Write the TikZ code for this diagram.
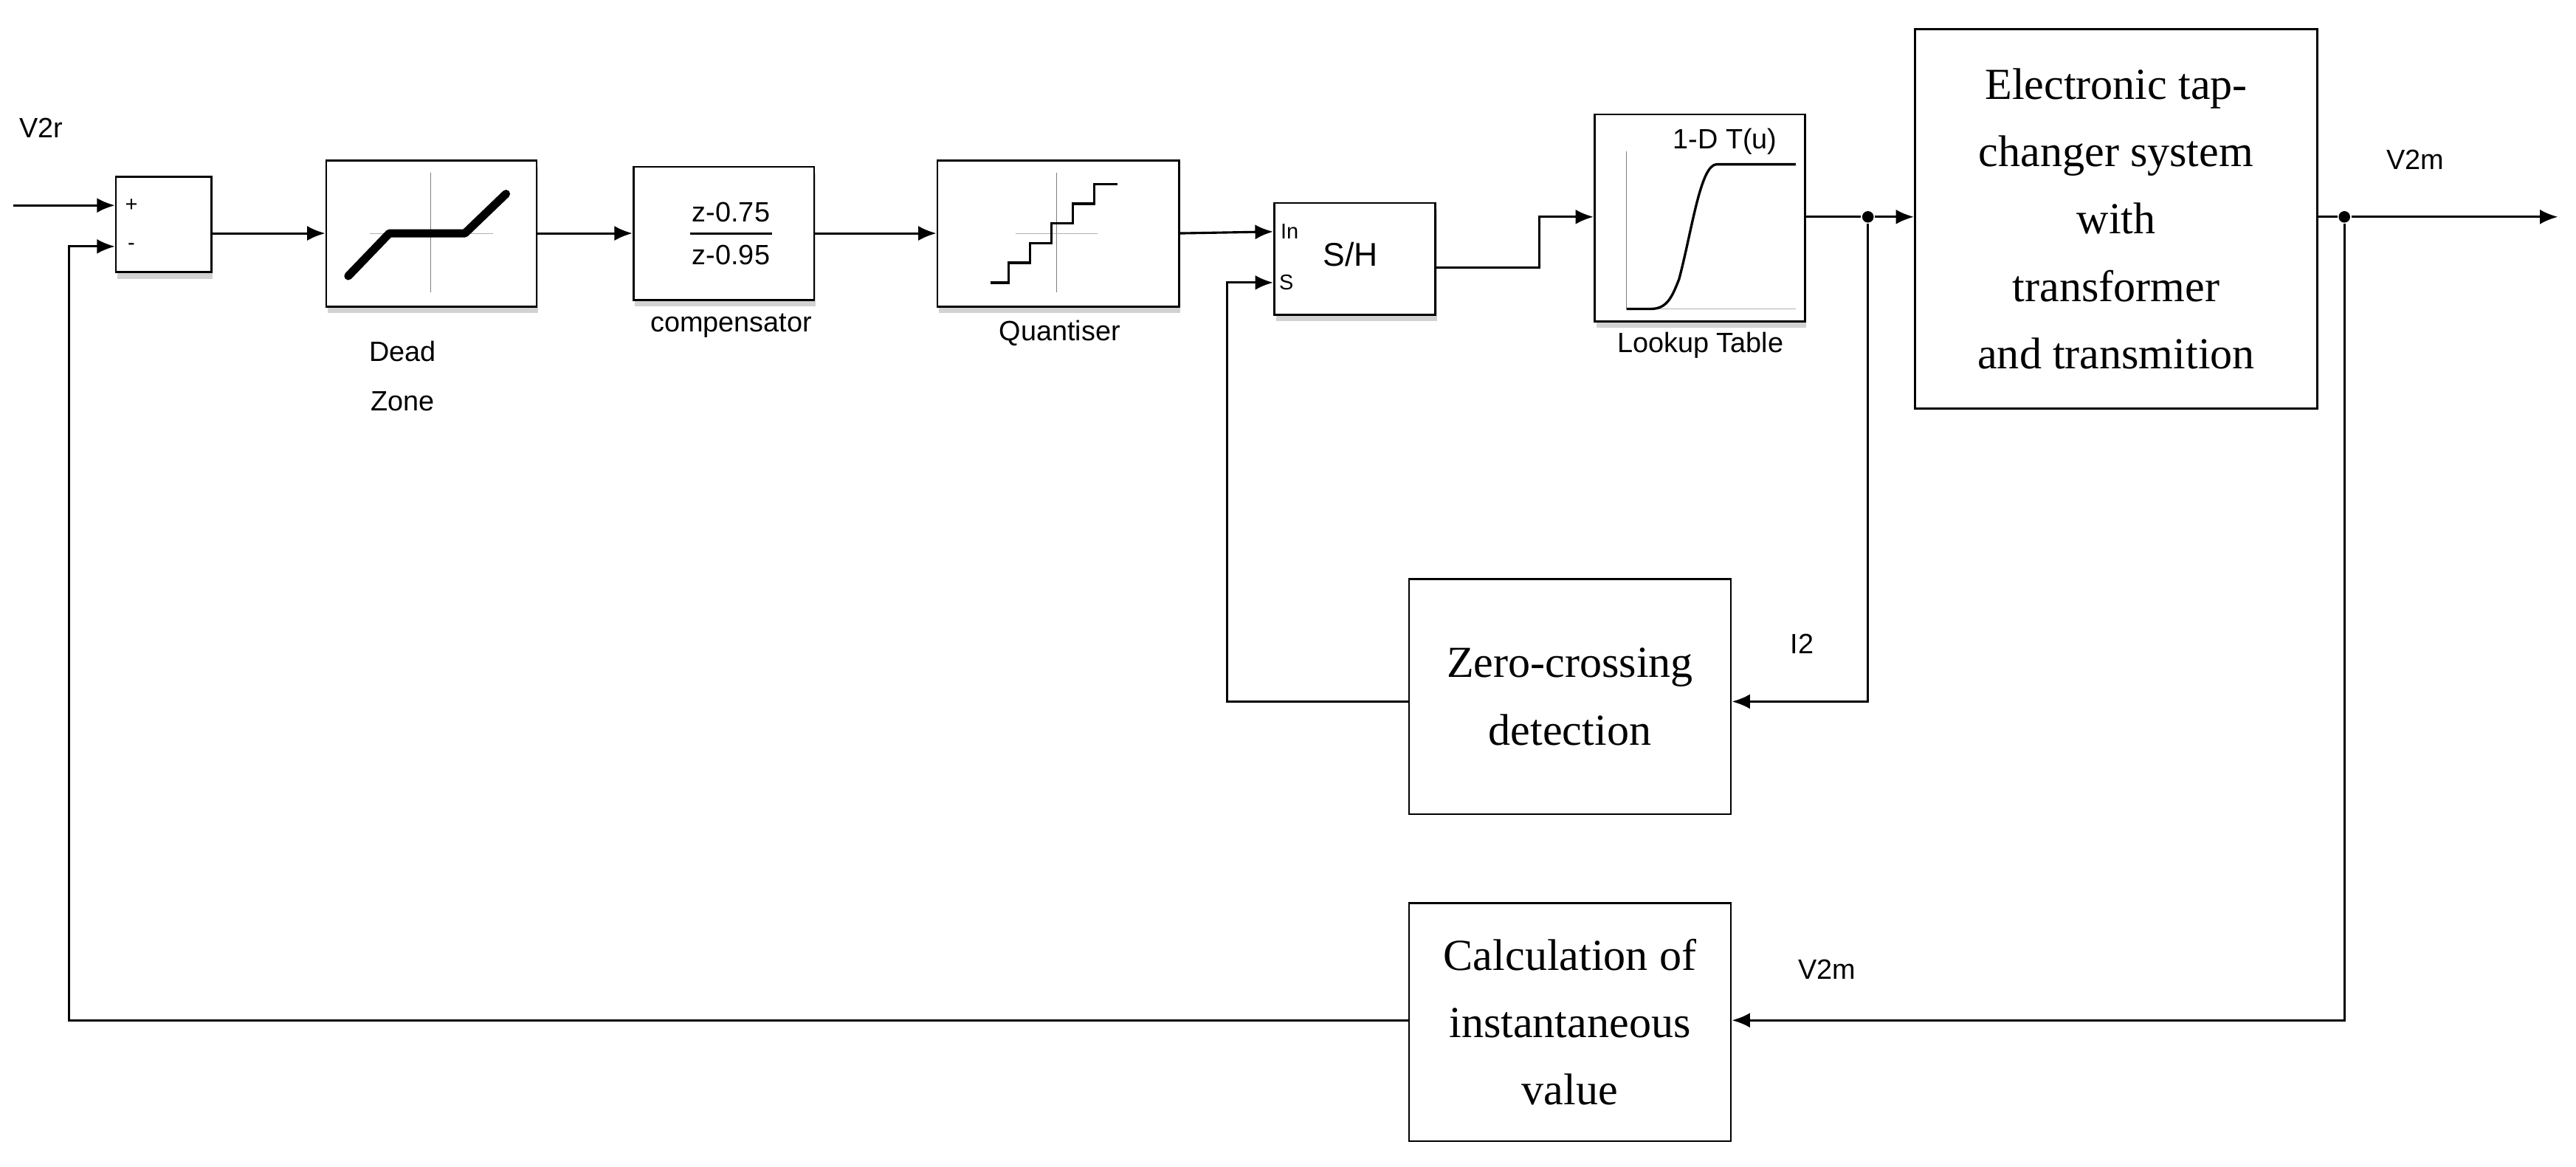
\documentclass[tikz,border=0pt]{standalone}
\usepackage{fontspec}
\setmainfont{Liberation Serif}
\newfontfamily\simfont{Liberation Sans}
\usetikzlibrary{arrows.meta,shadows}

\tikzset{
    sim/.style = {rectangle, draw, line width=1.2pt, fill=white,
                  drop shadow={shadow xshift=1pt, shadow yshift=-4pt, fill=black!35},
                  anchor=north west, inner sep=0pt},
    plain/.style = {rectangle, draw, line width=1.2pt, anchor=north west, inner sep=0pt,
                    align=center, font=\fontsize{27}{41}\selectfont},
    lbl/.style = {font=\simfont\fontsize{17}{30}\selectfont, align=center},
    port/.style = {font=\simfont\fontsize{13}{15}\selectfont},
    dot/.style = {circle, fill, inner sep=0pt, minimum size=7pt}
}

\begin{document}
\begin{tikzpicture}[x=1pt,y=-1pt,->,>={Latex[length=11pt,width=9pt]},line width=1.4pt]

    \useasboundingbox (0,0) rectangle (1568,710);

    % simulink blocks
    \node[sim, minimum width=58, minimum height=58] (sum) at (70,107) {};
    \node[sim, minimum width=128, minimum height=89] (dz) at (198,97) {};
    \node[sim, minimum width=110, minimum height=81] (comp) at (385,101) {};
    \node[sim, minimum width=147, minimum height=89] (quant) at (570,97) {};
    \node[sim, minimum width=98, minimum height=68] (sh) at (775,123) {};
    \node[sim, minimum width=128, minimum height=126] (lut) at (970,69) {};

    % plain blocks
    \node[plain, minimum width=245, minimum height=231] (tap) at (1165,17)
        {Electronic tap-\\changer system\\with\\transformer\\and transmition};
    \node[plain, minimum width=196, minimum height=143] (zc) at (857,352)
        {Zero-crossing\\detection};
    \node[plain, minimum width=196, minimum height=145] (calc) at (857,549)
        {Calculation of\\instantaneous\\value};

    % block icons
    \begin{scope}[-, line width=0.5pt]
        \draw[gray] (262,105) -- (262,178);
        \draw[gray!60] (225,142) -- (300,142);
        \draw[line width=5pt, line cap=round, line join=round]
            (212,168) -- (237,142) -- (283,142) -- (308,118);
        \draw[gray] (643,105) -- (643,178);
        \draw[gray!60] (618,142) -- (668,142);
        \draw[line width=1.5pt] (603,172) -- (614,172) -- (614,160) -- (627,160) -- (627,148)
            -- (640,148) -- (640,136) -- (653,136) -- (653,124) -- (666,124) -- (666,112)
            -- (680,112);
        \draw[gray] (990,92) -- (990,188);
        \draw[gray!60] (990,188) -- (1093,188);
        \draw[line width=1.5pt] (990,188) -- (1005,188) .. controls (1015,188) and (1018,180) .. (1022,170)
            .. controls (1030,140) and (1035,100) .. (1045,100) -- (1093,100);
        \draw[line width=1.4pt] (420,142) -- (470,142);
    \end{scope}
    \node[lbl] at (445,129) {z-0.75};
    \node[lbl] at (445,155) {z-0.95};
    \node[lbl] at (1050,86) {1-D T(u)};
    \node[lbl, font=\simfont\fontsize{20}{20}\selectfont] at (822,155) {S/H};
    \node[port] at (785,141) {In};
    \node[port] at (783,172) {S};
    \node[port] at (80,125) {+};
    \node[port] at (80,150) {-};

    % labels
    \node[lbl] at (25,78) {V2r};
    \node[lbl] at (245,229) {Dead\\Zone};
    \node[lbl] at (445,198) {compensator};
    \node[lbl] at (645,203) {Quantiser};
    \node[lbl] at (1035,210) {Lookup Table};
    \node[lbl] at (1470,97) {V2m};
    \node[lbl] at (1097,392) {I2};
    \node[lbl] at (1112,590) {V2m};

    % junctions and free ends
    \node[dot] (j1) at (1137,132) {};
    \node[dot] (j2) at (1427,132) {};
    \coordinate (in) at (8,125);
    \coordinate (out) at (1557,132);

    \path
    (in) edge [] (sum.west |- 0,125)
    (sum.east |- 0,142) edge [] (dz.west |- 0,142)
    (dz.east |- 0,142) edge [] (comp.west |- 0,142)
    (comp.east |- 0,142) edge [] (quant.west |- 0,142)
    (quant.east |- 0,142) edge [] (sh.west |- 0,141)
    (sh.east |- 0,163) edge [to path={-| (937,132) -- (\tikztotarget)}] (lut.west |- 0,132)
    (lut.east |- 0,132) edge [-] (j1)
    (j1) edge [] (tap.west |- 0,132)
    (tap.east |- 0,132) edge [-] (j2)
    (j2) edge [] (out)
    %feedback paths
    (j1) edge [to path={|- (\tikztotarget)}] (zc.east |- 0,427)
    (zc.west |- 0,427) edge [to path={-| (747,172) -- (\tikztotarget)}] (sh.west |- 0,172)
    (j2) edge [to path={|- (\tikztotarget)}] (calc.east |- 0,621)
    (calc.west |- 0,621) edge [to path={-| (42,150) -- (\tikztotarget)}] (sum.west |- 0,150);

\end{tikzpicture}
\end{document}
